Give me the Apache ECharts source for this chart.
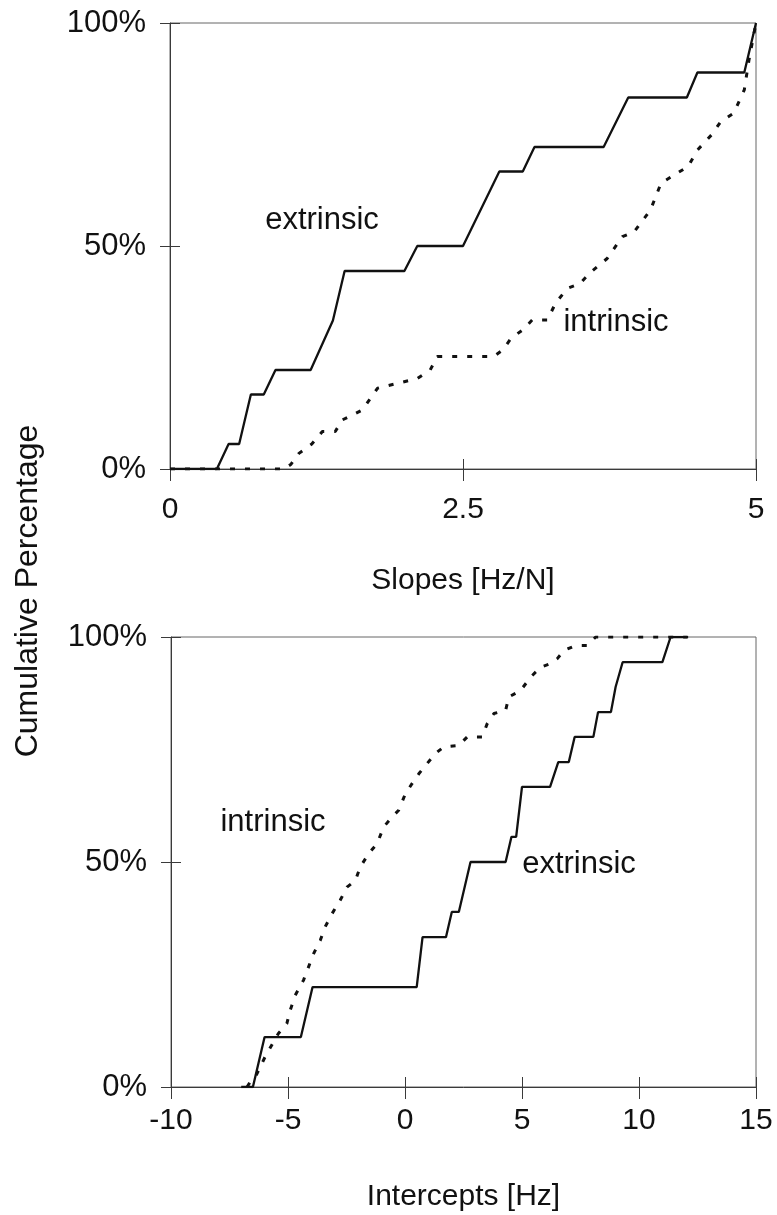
<!DOCTYPE html>
<html>
<head>
<meta charset="utf-8">
<script src="https://cdn.jsdelivr.net/npm/echarts@6/dist/echarts.min.js"></script>
<style>
  html, body { margin: 0; padding: 0; background: #ffffff; }
  #chart { width: 777px; height: 1215px; }
</style>
</head>
<body>
<div id="chart"></div>
<script>
// ---- Cumulative distributions: slopes [Hz/N] ----
const slopeExtrinsicX = [0, 0.40, 0.50, 0.59, 0.69, 0.80, 0.90, 1.20, 1.39, 1.49, 2.00, 2.11, 2.50, 2.81, 3.01, 3.11, 3.70, 3.91, 4.41, 4.50, 4.90, 5.00];
const slopeExtrinsicY = [0, 0, 5.6, 5.6, 16.7, 16.7, 22.2, 22.2, 33.3, 44.4, 44.4, 50, 50, 66.7, 66.7, 72.2, 72.2, 83.3, 83.3, 88.9, 88.9, 100];

const slopeIntrinsicX = [0, 0.97, 1.03, 1.10, 1.21, 1.30, 1.41, 1.47, 1.64, 1.77, 2.11, 2.22, 2.28, 2.76, 2.84, 2.91, 3.01, 3.09, 3.22, 3.29, 3.39, 3.50, 3.58, 3.73, 3.86, 3.96, 4.10, 4.19, 4.30, 4.42, 4.50, 4.62, 4.70, 4.81, 4.90, 4.94, 5.00];
const slopeIntrinsicY = [0, 0, 1.0, 3.5, 5.6, 8.4, 8.4, 11.0, 13.2, 18.1, 20.3, 22.2, 25.2, 25.2, 26.7, 29.3, 31.2, 33.4, 33.4, 37.2, 40.5, 41.6, 43.9, 47.2, 52.1, 53.2, 58.1, 64.1, 65.9, 67.8, 71.5, 74.9, 77.9, 79.8, 85.0, 91.7, 100];

// ---- Cumulative distributions: intercepts [Hz] ----
const interceptExtrinsicX = [-7.0, -6.5, -6.0, -4.45, -3.95, 0.5, 0.75, 1.75, 2.0, 2.3, 2.8, 4.3, 4.55, 4.75, 5.0, 6.2, 6.55, 7.0, 7.25, 8.05, 8.25, 8.8, 9.0, 9.3, 11.0, 11.35, 12.1];
const interceptExtrinsicY = [0, 0, 11.1, 11.1, 22.2, 22.2, 33.3, 33.3, 38.9, 38.9, 50, 50, 55.6, 55.6, 66.7, 66.7, 72.2, 72.2, 77.8, 77.8, 83.3, 83.3, 88.9, 94.4, 94.4, 100, 100];

const interceptIntrinsicX = [-6.75, -6.62, -6.40, -6.19, -5.98, -5.62, -5.41, -5.05, -4.91, -4.69, -4.34, -4.12, -3.91, -3.62, -3.41, -3.12, -2.77, -2.48, -2.12, -1.91, -1.55, -1.19, -0.91, -0.55, -0.27, 0.02, 0.30, 0.59, 0.95, 1.30, 1.66, 2.30, 2.66, 3.30, 3.51, 3.80, 4.30, 4.44, 4.94, 5.37, 5.80, 6.22, 6.51, 6.79, 7.29, 7.79, 8.15, 12.07];
const interceptIntrinsicY = [0, 1.1, 2.2, 4.4, 6.7, 10.0, 11.9, 14.1, 17.0, 20.4, 23.7, 26.7, 29.6, 32.6, 35.6, 38.5, 41.5, 44.4, 45.9, 48.9, 51.9, 54.1, 57.8, 60.0, 61.5, 65.2, 67.4, 69.6, 71.9, 74.1, 75.6, 75.9, 77.8, 77.8, 80.7, 83.0, 83.7, 86.7, 88.1, 91.1, 93.3, 94.1, 95.2, 97.0, 98.1, 98.1, 100, 100];

// ---- Axis ticks and labels ----
const slopeTicks = { min: 0, max: 5, interval: 2.5 };
const interceptTicks = { min: -10, max: 15, interval: 5 };
const percentTicks = { min: 0, max: 100, interval: 50 };
const slopeAxisName = 'Slopes [Hz/N]';
const interceptAxisName = 'Intercepts [Hz]';
const percentAxisName = 'Cumulative Percentage';
const curveNames = { extrinsic: 'extrinsic', intrinsic: 'intrinsic' };

const zip = (xs, ys) => xs.map((x, i) => [x, ys[i]]);

const SANS = "'Liberation Sans', Arial, Helvetica, sans-serif";
const INK = '#111111';
const AXIS = '#3a3a3a';

// main x axis: outward ticks + labels
function xMain(grid, ticks, name, labelMargin, nameGap) {
  return {
    type: 'value', gridIndex: grid, position: 'bottom',
    min: ticks.min, max: ticks.max, interval: ticks.interval,
    name: name, nameLocation: 'middle', nameGap: nameGap,
    nameTextStyle: { fontFamily: SANS, fontSize: 30, color: INK },
    axisLine: { show: true, onZero: false, lineStyle: { color: AXIS, width: 1 } },
    axisTick: { show: true, inside: false, length: 12, lineStyle: { color: AXIS, width: 1 } },
    axisLabel: { show: true, margin: labelMargin, fontFamily: SANS, fontSize: 30, color: INK },
    splitLine: { show: false }
  };
}
// companion x axis: inward half of the crossing ticks
function xInner(grid, ticks) {
  return {
    type: 'value', gridIndex: grid, position: 'bottom',
    min: ticks.min, max: ticks.max, interval: ticks.interval,
    axisLine: { show: false, onZero: false },
    axisTick: { show: true, inside: true, length: 10, lineStyle: { color: AXIS, width: 1 } },
    axisLabel: { show: false }, splitLine: { show: false }
  };
}
function yMain(grid) {
  return {
    type: 'value', gridIndex: grid, position: 'left',
    min: percentTicks.min, max: percentTicks.max, interval: percentTicks.interval,
    axisLine: { show: true, onZero: false, lineStyle: { color: AXIS, width: 1 } },
    axisTick: { show: true, inside: false, length: 10, lineStyle: { color: AXIS, width: 1 } },
    axisLabel: { show: true, margin: 24, fontFamily: SANS, fontSize: 31, color: INK, formatter: '{value}%' },
    splitLine: { show: false }
  };
}
// companion y axis: inward half of the crossing ticks
function yInner(grid) {
  return {
    type: 'value', gridIndex: grid, position: 'left',
    min: percentTicks.min, max: percentTicks.max, interval: percentTicks.interval,
    axisLine: { show: false, onZero: false },
    axisTick: { show: true, inside: true, length: 10, lineStyle: { color: AXIS, width: 1 } },
    axisLabel: { show: false }, splitLine: { show: false }
  };
}

function solid(name, xi, yi, data) {
  return {
    name: name, type: 'line', xAxisIndex: xi, yAxisIndex: yi, data: data,
    showSymbol: false, symbol: 'none', silent: true, animation: false,
    lineStyle: { color: INK, width: 2.3, type: 'solid' }, z: 5
  };
}
function dotted(name, xi, yi, data) {
  return {
    name: name, type: 'line', xAxisIndex: xi, yAxisIndex: yi, data: data,
    showSymbol: false, symbol: 'none', silent: true, animation: false,
    lineStyle: { color: INK, width: 3, type: [5, 10], cap: 'butt' }, z: 4
  };
}

function note(text, x, y) {
  return {
    type: 'text', x: x, y: y, silent: true,
    style: { text: text, fontFamily: SANS, fontSize: 31, fill: INK, align: 'center', verticalAlign: 'middle' }
  };
}

const chart = echarts.init(document.getElementById('chart'), null, { renderer: 'canvas' });
chart.setOption({
  backgroundColor: '#ffffff',
  animation: false,
  grid: [
    { left: 170, top: 23, width: 586, height: 446, show: true, borderColor: '#666', borderWidth: 1, backgroundColor: 'transparent' },
    { left: 171, top: 637, width: 585, height: 450, show: true, borderColor: '#666', borderWidth: 1, backgroundColor: 'transparent' }
  ],
  xAxis: [
    xMain(0, slopeTicks, slopeAxisName, 26, 97),
    xInner(0, slopeTicks),
    xMain(1, interceptTicks, interceptAxisName, 19, 95),
    xInner(1, interceptTicks)
  ],
  yAxis: [yMain(0), yInner(0), yMain(1), yInner(1)],
  series: [
    dotted(curveNames.intrinsic, 0, 0, zip(slopeIntrinsicX, slopeIntrinsicY)),
    solid(curveNames.extrinsic, 0, 0, zip(slopeExtrinsicX, slopeExtrinsicY)),
    dotted(curveNames.intrinsic, 2, 2, zip(interceptIntrinsicX, interceptIntrinsicY)),
    solid(curveNames.extrinsic, 2, 2, zip(interceptExtrinsicX, interceptExtrinsicY))
  ],
  graphic: [
    {
      type: 'text', x: 28, y: 591, rotation: Math.PI / 2, silent: true,
      style: { text: percentAxisName, fontFamily: SANS, fontSize: 32, fill: INK, align: 'center', verticalAlign: 'middle' }
    },
    note(curveNames.extrinsic, 322, 220),
    note(curveNames.intrinsic, 616, 322),
    note(curveNames.intrinsic, 273, 822),
    note(curveNames.extrinsic, 579, 864)
  ]
});
</script>
</body>
</html>
